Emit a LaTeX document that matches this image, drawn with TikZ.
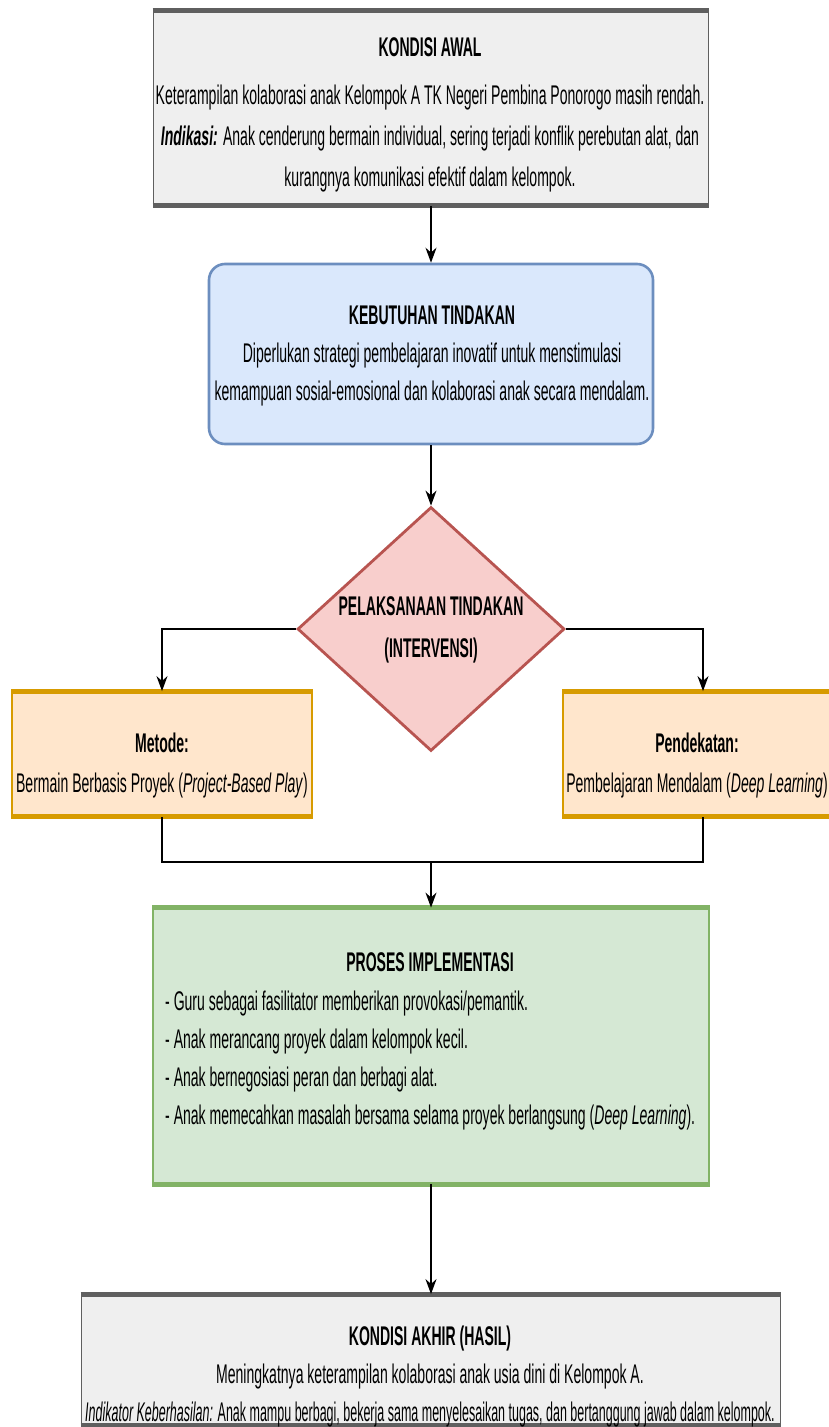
\documentclass[tikz,border=0pt]{standalone}
\usepackage{fontspec}
\setmainfont[FakeStretch=0.52]{Liberation Sans}
\usetikzlibrary{arrows.meta,shapes.geometric}
\definecolor{grayfill}{HTML}{EFEFEF}
\definecolor{grayline}{HTML}{5F5F5F}
\definecolor{bluefill}{HTML}{DAE8FC}
\definecolor{blueline}{HTML}{6C8EBF}
\definecolor{redfill}{HTML}{F8CECC}
\definecolor{redline}{HTML}{B85450}
\definecolor{orangefill}{HTML}{FFE6CC}
\definecolor{orangeline}{HTML}{D79B00}
\definecolor{greenfill}{HTML}{D5E8D4}
\definecolor{greenline}{HTML}{82B366}
\begin{document}
\begin{tikzpicture}[x=1pt,y=-1pt,
  txt/.style={font=\fontsize{27}{39}\selectfont, align=center, inner sep=0pt},
  arr/.style={-{Stealth[length=15pt,width=11pt]}, line width=1.6pt},
  conn/.style={line width=1.6pt},
  boxstyle/.style={draw=#1line, fill=#1fill, line width=1.8pt, inner sep=0pt},
  barline/.style={line width=5pt, draw=#1line}]
\clip (0,0) rectangle (829,1427);
\fill[white] (0,0) rectangle (829,1427);
\useasboundingbox (0,0) rectangle (829,1427);

% boxes
\node[boxstyle=gray, minimum width=555pt, minimum height=194pt] (k1) at (431,108) {};
\draw[barline=gray] (k1.north west) -- (k1.north east);
\draw[barline=gray] (k1.south west) -- (k1.south east);

\node[boxstyle=blue, line width=2.6pt, rounded corners=16pt, minimum width=444pt, minimum height=180pt] (kt) at (431,354) {};

\node[diamond, draw=redline, fill=redfill, line width=2.8pt, inner sep=0pt, minimum width=267pt, minimum height=244pt] (dia) at (431,629) {};

\node[boxstyle=orange, minimum width=300pt, minimum height=124pt] (met) at (162,754) {};
\draw[barline=orange] (met.north west) -- (met.north east);
\draw[barline=orange] (met.south west) -- (met.south east);

\node[boxstyle=orange, minimum width=280pt, minimum height=124pt] (pen) at (703,754) {};
\draw[barline=orange] (pen.north west) -- (pen.north east);
\draw[barline=orange] (pen.south west) -- (pen.south east);

\node[boxstyle=green, minimum width=556pt, minimum height=275pt] (pi) at (431,1046) {};
\draw[barline=green] (pi.north west) -- (pi.north east);
\draw[barline=green] (pi.south west) -- (pi.south east);

\node[boxstyle=gray, minimum width=699pt, minimum height=130pt] (ka) at (431,1360) {};
\draw[barline=gray] (ka.north west) -- (ka.north east);
\draw[barline=gray] (ka.south west) -- (ka.south east);

% texts
\node[txt, font=\fontsize{27}{41}\selectfont] (t1) at (430,115) {\textbf{KONDISI AWAL}\\[7pt]Keterampilan kolaborasi anak Kelompok A TK Negeri Pembina Ponorogo masih rendah.\\\textbf{\textit{Indikasi:}} Anak cenderung bermain individual, sering terjadi konflik perebutan alat, dan\\kurangnya komunikasi efektif dalam kelompok.};
\node[txt, font=\fontsize{27}{38}\selectfont] (t2) at (432,356) {\textbf{KEBUTUHAN TINDAKAN}\\Diperlukan strategi pembelajaran inovatif untuk menstimulasi\\kemampuan sosial-emosional dan kolaborasi anak secara mendalam.};
\node[txt, font=\fontsize{27}{42}\selectfont\bfseries] (t3) at (431,630) {PELAKSANAAN TINDAKAN\\(INTERVENSI)};
\node[txt, font=\fontsize{27}{40}\selectfont] (t4) at (162,766) {\textbf{Metode:}\\Bermain Berbasis Proyek (\textit{Project-Based Play})};
\node[txt, font=\fontsize{27}{40}\selectfont] (t5) at (697,766) {\textbf{Pendekatan:}\\Pembelajaran Mendalam (\textit{Deep Learning})};
\node[txt, font=\fontsize{27}{39}\selectfont\bfseries] (t6) at (430,962) {PROSES IMPLEMENTASI};
\node[txt, align=left, anchor=west, font=\fontsize{27}{38}\selectfont] (t7) at (165,1061) {- Guru sebagai fasilitator memberikan provokasi/pemantik.\\- Anak merancang proyek dalam kelompok kecil.\\- Anak bernegosiasi peran dan berbagi alat.\\- Anak memecahkan masalah bersama selama proyek berlangsung (\textit{Deep Learning}).};
\node[txt, font=\fontsize{27}{38}\selectfont] (t8) at (430,1377) {\textbf{KONDISI AKHIR (HASIL)}\\Meningkatnya keterampilan kolaborasi anak usia dini di Kelompok A.\\\scalebox{0.89}[1]{\textit{Indikator Keberhasilan:} Anak mampu berbagi, bekerja sama menyelesaikan tugas, dan bertanggung jawab dalam kelompok.}};

% connectors
\draw[arr] (k1.south) -- (kt.north);
\draw[arr] (kt.south) -- (dia.north);
\draw[arr] (dia.west) -| (met.north);
\draw[arr] (dia.east) -| (pen.north);
\coordinate (mj) at (431,862);
\draw[conn] (met.south) |- (mj) -| (pen.south);
\draw[arr] (mj) -- (pi.north);
\draw[arr] (pi.south) -- (ka.north);
\end{tikzpicture}
\end{document}
